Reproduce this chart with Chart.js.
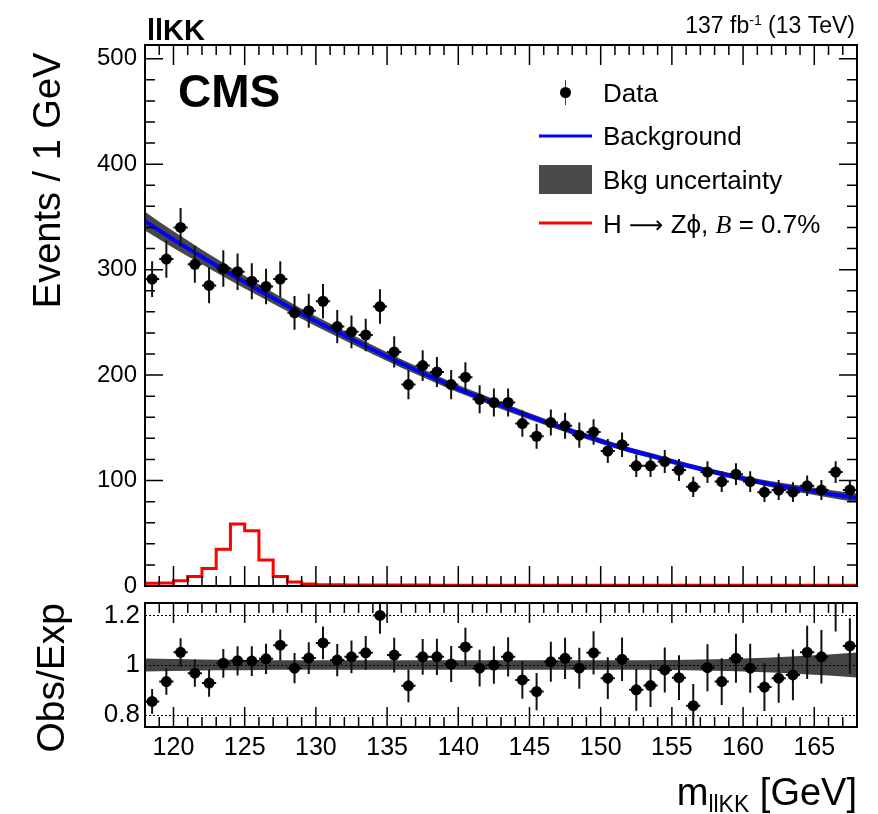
<!DOCTYPE html>
<html>
<head>
<meta charset="utf-8">
<script src="https://cdn.jsdelivr.net/npm/chart.js@4.4.1/dist/chart.umd.min.js"></script>
<style>
  html, body { margin: 0; padding: 0; background: #fff; }
  #wrap { position: relative; width: 878px; height: 814px; }
  #main { position: absolute; left: 0; top: 0; }
  #ratio { position: absolute; left: 0; top: 590px; }
</style>
</head>
<body>
<div id="wrap">
  <canvas id="main" width="878" height="600"></canvas>
  <canvas id="ratio" width="878" height="224"></canvas>
</div>
<script>
const FONT = "'Liberation Sans', Arial, Helvetica, sans-serif";

// 1 GeV bins from 118 to 168
const binCenters = Array.from({ length: 50 }, (_, i) => 118.5 + i);

const events = [
  291, 310, 340, 305, 285, 301, 298, 289, 284, 291,
  259, 261, 270, 246, 241, 238, 265, 222, 191, 209,
  203, 191, 198, 177, 174, 174, 154, 142, 155, 152,
  143, 146, 128, 134, 114, 114, 118, 110, 94, 108,
  99, 106, 99, 89, 91, 89, 95, 91, 108, 91
];
const eventsErr = [
  17, 17.6, 18.4, 17.5, 16.9, 17.3, 17.3, 17, 16.9, 17,
  16.1, 16.2, 16.4, 15.7, 15.5, 15.4, 16.3, 14.9, 13.8, 14.5,
  14.2, 13.8, 14.1, 13.3, 13.2, 13.2, 12.4, 11.9, 12.4, 12.3,
  12, 12.1, 11.3, 11.6, 10.7, 10.7, 10.9, 10.5, 9.7, 10.4,
  9.9, 10.3, 9.9, 9.4, 9.5, 9.4, 9.7, 9.5, 10.4, 9.5
];

const obsExp = [
  0.853, 0.933, 1.051, 0.967, 0.927, 1.007, 1.017, 1.016, 1.025, 1.08,
  0.987, 1.028, 1.089, 1.02, 1.033, 1.049, 1.2, 1.04, 0.916, 1.033,
  1.033, 1.004, 1.073, 0.987, 1.0, 1.033, 0.94, 0.893, 1.013, 1.027,
  0.987, 1.049, 0.947, 1.023, 0.9, 0.917, 0.98, 0.949, 0.836, 0.989,
  0.933, 1.027, 0.987, 0.911, 0.947, 0.96, 1.051, 1.033, 1.28, 1.077
];
const obsExpErr = [
  0.050, 0.053, 0.057, 0.055, 0.055, 0.058, 0.059, 0.060, 0.061, 0.063,
  0.061, 0.064, 0.066, 0.065, 0.066, 0.068, 0.074, 0.070, 0.066, 0.072,
  0.073, 0.073, 0.077, 0.074, 0.076, 0.079, 0.076, 0.075, 0.081, 0.083,
  0.083, 0.087, 0.084, 0.088, 0.084, 0.086, 0.091, 0.090, 0.087, 0.095,
  0.094, 0.099, 0.099, 0.096, 0.099, 0.102, 0.107, 0.108, 0.145, 0.112
];

// background fit, sampled every 2 GeV
const bkgMass = [118, 120, 122, 124, 126, 128, 130, 132, 134, 136, 138, 140, 142,
                 144, 146, 148, 150, 152, 154, 156, 158, 160, 162, 164, 166, 168];
const bkgFit = [346, 328.5, 312, 296, 280.5, 265.5, 251, 237.5, 224, 211, 199, 187, 176.5,
                166, 156, 146.5, 137.5, 129, 122, 114.5, 108, 102, 96.5, 92, 87.5, 83.5];
// relative background uncertainty
const bkgUnc = [0.026, 0.024, 0.022, 0.021, 0.020, 0.019, 0.019, 0.019, 0.019, 0.019, 0.019, 0.019, 0.019,
                0.019, 0.019, 0.019, 0.019, 0.019, 0.020, 0.021, 0.023, 0.026, 0.030, 0.036, 0.042, 0.050];

// signal histogram, one value per bin (bins start at 118)
const signal = [
  2.5, 2.8, 5.0, 8.9, 16.5, 34.8, 58.9, 52.5, 24.7, 8.9,
  3.8, 1.9, 1.3, 1.1, 1.0, 1.0, 0.9, 0.9, 0.9, 0.9,
  0.8, 0.8, 0.8, 0.8, 0.8, 0.8, 0.8, 0.8, 0.8, 0.8,
  0.8, 0.8, 0.8, 0.7, 0.7, 0.7, 0.7, 0.7, 0.7, 0.7,
  0.7, 0.7, 0.7, 0.7, 0.7, 0.7, 0.7, 0.7, 0.7, 0.7
];

const xTicks = [120, 125, 130, 135, 140, 145, 150, 155, 160, 165];
const mainYTicks = [0, 100, 200, 300, 400, 500];
const ratioYTicks = [0.8, 1, 1.2];

const signalPts = signal.map((v, i) => ({ x: 118 + i, y: v }));
signalPts.push({ x: 168, y: signal[signal.length - 1] });

// frame with ROOT-like inward ticks
function drawFrame(chart, yStep, yMajor) {
  const { ctx, chartArea: a, scales: { x, y } } = chart;
  ctx.save();
  ctx.strokeStyle = '#000';
  ctx.lineWidth = 1.5;
  ctx.beginPath();
  for (let m = Math.ceil(x.min) + 1; m < x.max; m++) {
    const px = x.getPixelForValue(m);
    const len = m % 5 === 0 ? 20 : 10;
    ctx.moveTo(px, a.bottom); ctx.lineTo(px, a.bottom - len);
    ctx.moveTo(px, a.top); ctx.lineTo(px, a.top + len);
  }
  if (yStep) {
    for (let v = yStep; v < y.max; v += yStep) {
      const py = y.getPixelForValue(v);
      const len = v % yMajor === 0 ? 18 : 10;
      ctx.moveTo(a.left, py); ctx.lineTo(a.left + len, py);
      ctx.moveTo(a.right, py); ctx.lineTo(a.right - len, py);
    }
  }
  ctx.stroke();
  ctx.lineWidth = 2;
  ctx.strokeRect(a.left, a.top, a.right - a.left, a.bottom - a.top);
  ctx.restore();
}

const errorBars = {
  id: 'errorBars',
  beforeDatasetDraw(chart, args) {
    const ds = chart.data.datasets[args.index];
    if (!ds.errors) return;
    const { ctx, chartArea: a, scales: { x, y } } = chart;
    ctx.save();
    ctx.beginPath();
    ctx.rect(a.left, a.top, a.right - a.left, a.bottom - a.top);
    ctx.clip();
    ctx.strokeStyle = '#111';
    ctx.lineWidth = 2;
    ctx.beginPath();
    ds.data.forEach((p, i) => {
      const e = ds.errors[i];
      const px = x.getPixelForValue(p.x);
      const py = y.getPixelForValue(p.y);
      ctx.moveTo(px, y.getPixelForValue(p.y - e));
      ctx.lineTo(px, y.getPixelForValue(p.y + e));
      ctx.moveTo(x.getPixelForValue(p.x - 0.5), py);
      ctx.lineTo(x.getPixelForValue(p.x + 0.5), py);
    });
    ctx.stroke();
    ctx.restore();
  }
};

const mainDecor = {
  id: 'mainDecor',
  afterDatasetsDraw(chart) {
    drawFrame(chart, 20, 100);
  },
  afterDraw(chart) {
    const ctx = chart.ctx;
    ctx.save();
    ctx.fillStyle = '#000';
    ctx.textBaseline = 'alphabetic';
    ctx.textAlign = 'left';
    ctx.font = 'bold 29px ' + FONT;
    ctx.fillText('llKK', 147, 40);
    ctx.font = 'bold 46px ' + FONT;
    ctx.fillText('CMS', 178, 107);

    // luminosity label, right aligned
    ctx.textAlign = 'right';
    ctx.font = '23px ' + FONT;
    let xr = 855;
    ctx.fillText(' (13 TeV)', xr, 33);
    xr -= ctx.measureText(' (13 TeV)').width;
    ctx.font = '14px ' + FONT;
    ctx.fillText('-1', xr, 25);
    xr -= ctx.measureText('-1').width;
    ctx.font = '23px ' + FONT;
    ctx.fillText('137 fb', xr, 33);

    // legend
    ctx.textAlign = 'left';
    ctx.font = '26px ' + FONT;
    const tx = 603;
    ctx.strokeStyle = '#3030d0';
    ctx.lineWidth = 1;
    ctx.beginPath(); ctx.moveTo(565.5, 80); ctx.lineTo(565.5, 105); ctx.stroke();
    ctx.beginPath(); ctx.arc(565.5, 92.5, 5.5, 0, Math.PI * 2); ctx.fill();
    ctx.fillText('Data', tx, 102);

    ctx.strokeStyle = '#0000ff';
    ctx.lineWidth = 3;
    ctx.beginPath(); ctx.moveTo(539, 136); ctx.lineTo(592, 136); ctx.stroke();
    ctx.fillText('Background', tx, 145);

    ctx.fillStyle = '#4a4a4a';
    ctx.fillRect(539, 165, 53, 29);
    ctx.fillStyle = '#000';
    ctx.fillText('Bkg uncertainty', tx, 189);

    ctx.strokeStyle = '#ff0000';
    ctx.beginPath(); ctx.moveTo(539, 223); ctx.lineTo(592, 223); ctx.stroke();
    let lx = tx;
    ctx.fillText('H ', lx, 233);
    lx += ctx.measureText('H ').width;
    ctx.font = '24px "DejaVu Sans", ' + FONT;
    ctx.fillText('\u27f6', lx, 233);
    lx += ctx.measureText('\u27f6').width;
    ctx.font = '26px ' + FONT;
    const part2 = ' Z\u03d5, ';
    ctx.fillText(part2, lx, 233);
    lx += ctx.measureText(part2).width;
    ctx.font = 'italic 26px "Liberation Serif", "Times New Roman", serif';
    ctx.fillText('B', lx, 233);
    lx += ctx.measureText('B').width;
    ctx.font = '26px ' + FONT;
    ctx.fillText(' = 0.7%', lx, 233);
    ctx.restore();
  }
};

const ratioDecor = {
  id: 'ratioDecor',
  beforeDatasetDraw(chart, args) {
    if (chart.data.datasets[args.index].label !== 'ratio') return;
    const { ctx, chartArea: a, scales: { y } } = chart;
    ctx.save();
    ctx.strokeStyle = '#000';
    ctx.lineWidth = 1;
    ctx.setLineDash([2, 2]);
    ctx.beginPath();
    ratioYTicks.forEach(v => {
      const py = Math.round(y.getPixelForValue(v)) + 0.5;
      ctx.moveTo(a.left, py); ctx.lineTo(a.right, py);
    });
    ctx.stroke();
    ctx.restore();
  },
  afterDatasetsDraw(chart) {
    drawFrame(chart, 0, 0);
  },
  afterDraw(chart) {
    const ctx = chart.ctx;
    ctx.save();
    ctx.fillStyle = '#000';
    ctx.textBaseline = 'alphabetic';
    ctx.textAlign = 'right';
    let xr = 857;
    ctx.font = '38px ' + FONT;
    ctx.fillText(' [GeV]', xr, 215);
    xr -= ctx.measureText(' [GeV]').width;
    ctx.font = '23px ' + FONT;
    ctx.fillText('llKK', xr, 222);
    xr -= ctx.measureText('llKK').width;
    ctx.font = '38px ' + FONT;
    ctx.fillText('m', xr, 215);
    ctx.restore();
  }
};

function yAxisFit(scale) {
  scale.width = 145;
  scale.paddingTop = 0;
  scale.paddingBottom = 0;
}

new Chart(document.getElementById('main'), {
  type: 'line',
  data: {
    datasets: [
      {
        label: 'bandHi',
        data: bkgMass.map((m, i) => ({ x: m, y: bkgFit[i] * (1 + bkgUnc[i]) })),
        borderWidth: 0, pointRadius: 0, fill: 1,
        backgroundColor: '#474747', cubicInterpolationMode: 'monotone', order: 5
      },
      {
        label: 'bandLo',
        data: bkgMass.map((m, i) => ({ x: m, y: bkgFit[i] * (1 - bkgUnc[i]) })),
        borderWidth: 0, pointRadius: 0, fill: false,
        cubicInterpolationMode: 'monotone', order: 4
      },
      {
        label: 'Background',
        data: bkgMass.map((m, i) => ({ x: m, y: bkgFit[i] })),
        borderColor: '#0000ff', borderWidth: 4, pointRadius: 0, fill: false,
        cubicInterpolationMode: 'monotone', order: 3
      },
      {
        label: 'signal',
        data: signalPts,
        stepped: 'before',
        borderColor: '#ff0000', borderWidth: 3, pointRadius: 0, fill: false, order: 2
      },
      {
        type: 'scatter',
        label: 'Data',
        data: binCenters.map((m, i) => ({ x: m, y: events[i] })),
        errors: eventsErr,
        pointRadius: 5.5, backgroundColor: '#000', borderWidth: 0, clip: 0, order: 1
      }
    ]
  },
  options: {
    responsive: false,
    animation: false,
    events: [],
    layout: { padding: { top: 45, right: 21, bottom: 14, left: 0 } },
    plugins: { legend: { display: false }, tooltip: { enabled: false } },
    scales: {
      x: { type: 'linear', min: 118, max: 168, display: false },
      y: {
        type: 'linear', min: 0, max: 513,
        afterFit: yAxisFit,
        afterBuildTicks(scale) { scale.ticks = mainYTicks.map(v => ({ value: v })); },
        grid: { display: false, drawTicks: false },
        border: { display: false },
        ticks: { font: { family: FONT, size: 24 }, color: '#000', padding: 8, callback: v => String(v) },
        title: {
          display: true, text: 'Events / 1 GeV\u2009', align: 'end', color: '#000',
          font: { family: FONT, size: 38 }, padding: { top: 27, bottom: 0 }
        }
      }
    }
  },
  plugins: [errorBars, mainDecor]
});

new Chart(document.getElementById('ratio'), {
  type: 'line',
  data: {
    datasets: [
      {
        label: 'bandHi',
        data: bkgMass.map((m, i) => ({ x: m, y: 1 + bkgUnc[i] })),
        borderWidth: 0, pointRadius: 0, fill: 1,
        backgroundColor: '#444444', cubicInterpolationMode: 'monotone', order: 3
      },
      {
        label: 'bandLo',
        data: bkgMass.map((m, i) => ({ x: m, y: 1 - bkgUnc[i] })),
        borderWidth: 0, pointRadius: 0, fill: false,
        cubicInterpolationMode: 'monotone', order: 2
      },
      {
        type: 'scatter',
        label: 'ratio',
        data: binCenters.map((m, i) => ({ x: m, y: obsExp[i] })),
        errors: obsExpErr,
        pointRadius: 5.5, backgroundColor: '#000', borderWidth: 0, clip: 0, order: 1
      }
    ]
  },
  options: {
    responsive: false,
    animation: false,
    events: [],
    layout: { padding: { top: 13, right: 21, bottom: 0, left: 0 } },
    plugins: { legend: { display: false }, tooltip: { enabled: false } },
    scales: {
      x: {
        type: 'linear', min: 118, max: 168,
        afterFit(scale) { scale.height = 87; scale.paddingLeft = 0; scale.paddingRight = 0; },
        afterBuildTicks(scale) { scale.ticks = xTicks.map(v => ({ value: v })); },
        grid: { display: false, drawTicks: false },
        border: { display: false },
        ticks: {
          font: { family: FONT, size: 25 }, color: '#000', padding: 6,
          autoSkip: false, maxRotation: 0, callback: v => String(v)
        }
      },
      y: {
        type: 'linear', min: 0.75, max: 1.25,
        afterFit: yAxisFit,
        afterBuildTicks(scale) { scale.ticks = ratioYTicks.map(v => ({ value: v })); },
        grid: { display: false, drawTicks: false },
        border: { display: false },
        ticks: {
          font: { family: FONT, size: 26 }, color: '#000', padding: 5,
          callback: v => (v === 1 ? '1' : v.toFixed(1))
        },
        title: {
          display: true, text: 'Obs/Exp', align: 'end', color: '#000',
          font: { family: FONT, size: 39 }, padding: { top: 30, bottom: 0 }
        }
      }
    }
  },
  plugins: [ratioDecor, errorBars]
});
</script>
</body>
</html>
